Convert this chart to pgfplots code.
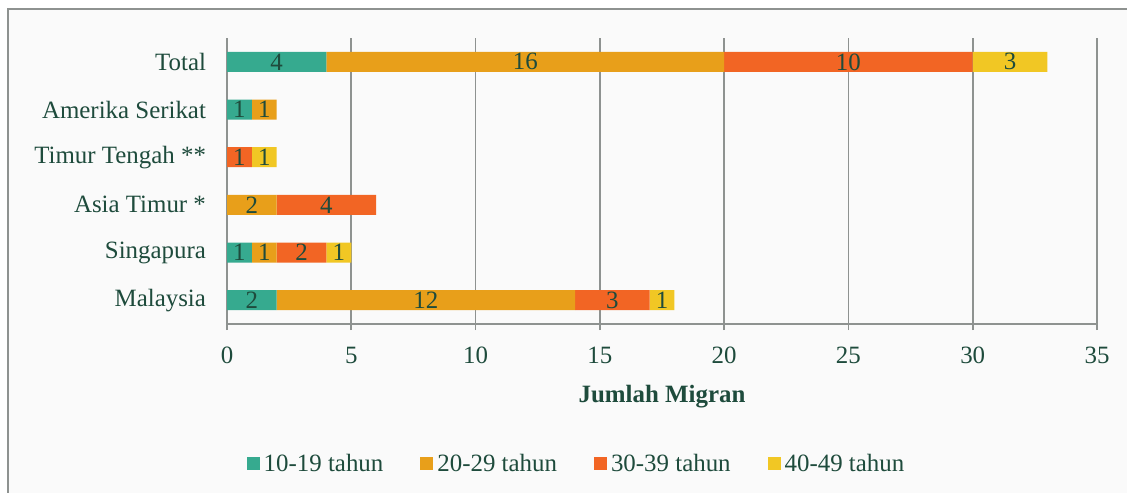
\documentclass[border=0pt]{standalone}
\usepackage{pgfplots}
\usepackage{pgfplotstable}
\pgfplotsset{compat=1.18}
\usepackage{fontspec}
\setmainfont{Liberation Serif}

\definecolor{txt}{HTML}{1E4B3C}
\definecolor{gridc}{HTML}{8E9290}
\definecolor{bgc}{HTML}{FAFAFA}
\definecolor{cA}{HTML}{36AA8F}
\definecolor{cB}{HTML}{E89F1A}
\definecolor{cC}{HTML}{F26524}
\definecolor{cD}{HTML}{F1C724}

% y: 0 Malaysia ... 5 Total
\pgfplotstableread{
y a b c d
0 2 12 3 1
1 1 1 2 1
2 0 2 4 0
3 0 0 1 1
4 1 1 0 0
5 4 16 10 3
}\migran

\begin{document}
\begin{tikzpicture}
\useasboundingbox (0bp,0bp) rectangle (563.5bp,-246.5bp);
\fill[bgc] (4bp,-4.5bp) rectangle (563.5bp,-246.5bp);
\draw[gridc, line width=1bp] (4bp,-246.5bp) -- (4bp,-4.5bp) -- (563.5bp,-4.5bp);
\begin{axis}[
    at={(113.5bp,-162bp)}, anchor=south west,
    scale only axis, width=435bp, height=143bp,
    font=\fontsize{12.5}{15}\selectfont,
    /pgf/number format/assume math mode=true,
    xbar stacked,
    bar width=10bp,
    xmin=0, xmax=35,
    ymin=-0.5, ymax=5.5,
    axis lines=left,
    axis line style={-, gridc, line width=0.8bp},
    tick style={gridc, line width=0.8bp},
    tick align=outside,
    major tick length=3bp,
    xtick={0,5,...,35},
    ytick={0,...,5},
    yticklabels={Malaysia,Singapura,Asia Timur *,Timur Tengah **,Amerika Serikat,Total},
    ytick style={draw=none},
    extra y ticks={-0.5,0.5,1.5,2.5,3.5,4.5,5.5},
    extra y tick labels={},
    extra y tick style={tick style={gridc, line width=0.8bp}, major tick length=4bp, ymajorgrids=false},
    xmajorgrids,
    grid style={gridc, line width=0.8bp},
    ticklabel style={text=txt},
    xticklabel style={yshift=-5bp},
    yticklabel style={xshift=-4bp},
    xlabel={\textbf{Jumlah Migran}},
    xlabel style={at={(axis description cs:0.5,0)}, anchor=center, yshift=-36.5bp, text=txt},
    point meta=explicit,
    nodes near coords={\pgfmathfloatifflags{\pgfplotspointmeta}{0}{}{\pgfmathprintnumber{\pgfplotspointmeta}}},
    every node near coord/.append style={anchor=center, text=txt, inner sep=0pt},
    legend columns=4,
    legend style={at={(0.4029,-0.4895)}, anchor=center, draw=none, fill=none, text=txt,
        /tikz/every even column/.append style={column sep=16.5bp}},
    legend image code/.code={\fill[#1] (0bp,-3.25bp) rectangle (6.5bp,3.25bp);},
  ]
  \addplot[fill=cA, draw=none] table[x=a, y=y, meta=a] {\migran};
  \addplot[fill=cB, draw=none] table[x=b, y=y, meta=b] {\migran};
  \addplot[fill=cC, draw=none] table[x=c, y=y, meta=c] {\migran};
  \addplot[fill=cD, draw=none] table[x=d, y=y, meta=d] {\migran};
  \legend{10-19 tahun,20-29 tahun,30-39 tahun,40-49 tahun}
\end{axis}
\end{tikzpicture}
\end{document}
